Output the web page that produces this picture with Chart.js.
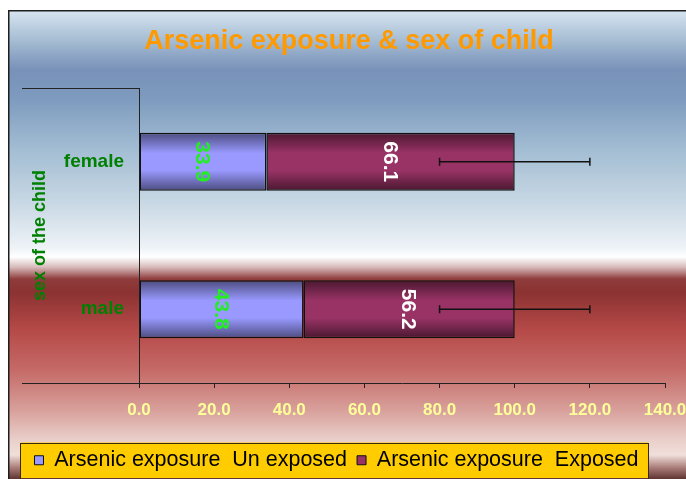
<!DOCTYPE html>
<html>
<head>
<meta charset="utf-8">
<script src="https://cdn.jsdelivr.net/npm/chart.js@4/dist/chart.umd.min.js"></script>
<style>
  html, body { margin: 0; padding: 0; background: #ffffff; }
  #wrap { width: 686px; height: 479px; }
</style>
</head>
<body>
<div id="wrap"><canvas id="chart" width="686" height="479"></canvas></div>
<script>
// Share of children by arsenic exposure, per sex (percent)
const categories = ['female', 'male'];
const unexposedShare = [33.9, 43.8];
const exposedShare = [66.1, 56.2];
// Error bar half-width on the stacked total
const totalError = [20, 20];
// Value axis ticks
const xTickValues = [0, 20, 40, 60, 80, 100, 120, 140];

const FONT = '"Liberation Sans", Arial, Helvetica, sans-serif';
const CAT_PCT = 0.8;
const BAR_PCT = 0.49;
const SERIES_COLORS = ['#9999ff', '#993366'];

// Bars are shaded across their thickness: dark rims, light middle
function barShade(light, dark) {
  return (ctx) => {
    if (ctx.type !== 'data') return light;
    const chart = ctx.chart;
    const ys = chart.scales.y;
    if (!ys || !ys.height) return light;
    const center = ys.getPixelForValue(ctx.dataIndex);
    const half = (ys.height / categories.length) * CAT_PCT * BAR_PCT / 2;
    const g = chart.ctx.createLinearGradient(0, center - half, 0, center + half);
    g.addColorStop(0, dark);
    g.addColorStop(0.35, light);
    g.addColorStop(0.65, light);
    g.addColorStop(1, dark);
    return g;
  };
}

// Frame background with vertical colour bands and the legend panel
const framePlugin = {
  id: 'frame',
  afterLayout(chart, args, opts) {
    // the heading sits a little right of the frame centre
    const tb = chart.titleBlock;
    if (tb) { tb.left += opts.titleShift; tb.right += opts.titleShift; }
  },
  beforeDraw(chart) {
    const { ctx, width, height } = chart;
    ctx.save();
    ctx.fillStyle = '#ffffff';
    ctx.fillRect(0, 0, width, height);
    const top = 10, left = 8;
    const g = ctx.createLinearGradient(0, top, 0, height);
    const stops = [
      [11, '#d6e4f0'], [40, '#a6bdd3'], [70, '#7891b8'], [100, '#7e9cbf'],
      [150, '#a3bdd3'], [200, '#c6d6e3'], [248, '#eef3f7'], [257, '#ffffff'],
      [267, '#d8bcbc'], [279, '#8f3c3c'], [292, '#8b3232'], [330, '#b54a48'],
      [370, '#c56a67'], [410, '#d8a09b'], [440, '#eacfca'], [455, '#f0dfdb'],
      [468, '#a87a76'], [479, '#5e3432']
    ];
    stops.forEach(([y, c]) => g.addColorStop((y - top) / (height - top), c));
    ctx.fillStyle = g;
    ctx.fillRect(left, top, width - left, height - top);
    ctx.strokeStyle = '#1e1e1e';
    ctx.lineWidth = 1.5;
    ctx.beginPath();
    ctx.moveTo(left + 0.75, height);
    ctx.lineTo(left + 0.75, top + 0.75);
    ctx.lineTo(width, top + 0.75);
    ctx.stroke();

    // legend panel
    const boxes = chart.legend && chart.legend.legendHitBoxes;
    if (boxes && boxes.length) {
      let l = Infinity, r = -Infinity, t = Infinity, b = -Infinity;
      boxes.forEach(h => {
        l = Math.min(l, h.left); r = Math.max(r, h.left + h.width);
        t = Math.min(t, h.top); b = Math.max(b, h.top + h.height);
      });
      const pl = 14, pr = 10, py = 7;
      ctx.fillStyle = '#ffcc00';
      ctx.fillRect(l - pl, t - py, r - l + pl + pr, b - t + 2 * py);
      ctx.strokeStyle = '#3a2a10';
      ctx.lineWidth = 1;
      ctx.strokeRect(Math.round(l - pl) + 0.5, Math.round(t - py) + 0.5,
                     Math.round(r - l + pl + pr), Math.round(b - t + 2 * py));
    }
    ctx.restore();
  }
};

// Axis lines reaching out over the category label column
const axisFramePlugin = {
  id: 'axisFrame',
  afterDatasetsDraw(chart, args, opts) {
    const { ctx, chartArea } = chart;
    ctx.save();
    ctx.strokeStyle = '#222222';
    ctx.lineWidth = 1;
    const x0 = chartArea.left - opts.reach;
    [chartArea.top, chartArea.bottom].forEach(y => {
      ctx.beginPath();
      ctx.moveTo(x0, Math.round(y) + 0.5);
      ctx.lineTo(chartArea.left, Math.round(y) + 0.5);
      ctx.stroke();
    });
    ctx.restore();
  }
};

// Error bars centred on the end of each stacked bar
const errorBarPlugin = {
  id: 'errorBars',
  afterDatasetsDraw(chart) {
    const { ctx } = chart;
    const xs = chart.scales.x;
    const meta = chart.getDatasetMeta(1);
    ctx.save();
    ctx.strokeStyle = '#111111';
    ctx.lineWidth = 1.5;
    meta.data.forEach((bar, i) => {
      const total = unexposedShare[i] + exposedShare[i];
      const lo = xs.getPixelForValue(total - totalError[i]);
      const hi = xs.getPixelForValue(total + totalError[i]);
      const y = bar.y;
      ctx.beginPath();
      ctx.moveTo(lo, y); ctx.lineTo(hi, y);
      ctx.moveTo(lo, y - 4); ctx.lineTo(lo, y + 4);
      ctx.moveTo(hi, y - 4); ctx.lineTo(hi, y + 4);
      ctx.stroke();
    });
    ctx.restore();
  }
};

// Value labels written down the middle of each segment
const valueLabelPlugin = {
  id: 'valueLabels',
  afterDatasetsDraw(chart, args, opts) {
    const { ctx } = chart;
    chart.data.datasets.forEach((ds, di) => {
      const meta = chart.getDatasetMeta(di);
      meta.data.forEach((bar, i) => {
        const cx = (bar.x + bar.base) / 2;
        ctx.save();
        ctx.translate(cx, bar.y);
        ctx.rotate(Math.PI / 2);
        ctx.font = 'bold 21px ' + FONT;
        ctx.fillStyle = opts.colors[di];
        ctx.textAlign = 'center';
        ctx.textBaseline = 'middle';
        ctx.fillText(ds.data[i].toFixed(1), 0, 1);
        ctx.restore();
      });
    });
  }
};

new Chart(document.getElementById('chart'), {
  type: 'bar',
  data: {
    labels: categories,
    datasets: [
      {
        label: 'Arsenic exposure  Un exposed',
        data: unexposedShare,
        backgroundColor: barShade(SERIES_COLORS[0], '#4c4c80'),
        borderColor: '#111111',
        borderWidth: 1.5,
        borderSkipped: false,
        categoryPercentage: CAT_PCT,
        barPercentage: BAR_PCT
      },
      {
        label: 'Arsenic exposure  Exposed',
        data: exposedShare,
        backgroundColor: barShade(SERIES_COLORS[1], '#4a1830'),
        borderColor: '#111111',
        borderWidth: 1.5,
        borderSkipped: false,
        categoryPercentage: CAT_PCT,
        barPercentage: BAR_PCT
      }
    ]
  },
  options: {
    indexAxis: 'y',
    responsive: false,
    animation: false,
    layout: { padding: { left: 8, top: 11, right: 21, bottom: -2 } },
    scales: {
      x: {
        stacked: true,
        min: 0,
        max: 140,
        afterBuildTicks: (scale) => { scale.ticks = xTickValues.map(v => ({ value: v })); },
        afterFit: (scale) => { scale.height = 56.5; scale.paddingLeft = 0; scale.paddingRight = 0; },
        ticks: {
          color: '#ffff99',
          font: { family: FONT, size: 17, weight: 'bold' },
          padding: 12,
          maxRotation: 0,
          autoSkip: false,
          callback: (v) => Number(v).toFixed(1)
        },
        grid: { drawOnChartArea: false, drawTicks: true, tickLength: 5, color: '#222222', lineWidth: 1 },
        border: { display: true, color: '#222222', width: 1 }
      },
      y: {
        stacked: true,
        afterFit: (scale) => { scale.width = 131; },
        ticks: {
          color: '#008000',
          font: { family: FONT, size: 19, weight: 'bold' },
          padding: 15
        },
        grid: { display: false, drawTicks: false },
        border: { display: true, color: '#222222', width: 1 },
        title: {
          display: true,
          text: 'sex of the child',
          color: '#008000',
          font: { family: FONT, size: 18, weight: 'bold' },
          padding: { top: 21, bottom: 0 }
        }
      }
    },
    plugins: {
      title: {
        display: true,
        text: 'Arsenic exposure & sex of child',
        color: '#ff9900',
        font: { family: FONT, size: 27, weight: 'bold' },
        padding: { top: 14.4, bottom: 30.2 }
      },
      legend: {
        position: 'bottom',
        labels: {
          color: '#000000',
          font: { family: FONT, size: 21.5 },
          boxWidth: 9,
          boxHeight: 9,
          padding: 10,
          generateLabels: (chart) => {
            const items = Chart.defaults.plugins.legend.labels.generateLabels(chart);
            items.forEach((it, i) => {
              it.fillStyle = SERIES_COLORS[i];
              it.strokeStyle = '#111111';
              it.lineWidth = 1;
            });
            return items;
          }
        }
      },
      tooltip: { enabled: false },
      frame: { titleShift: 12.5 },
      axisFrame: { reach: 117 },
      valueLabels: { colors: ['#22ee22', '#ffffff'] }
    }
  },
  plugins: [framePlugin, axisFramePlugin, errorBarPlugin, valueLabelPlugin]
});
</script>
</body>
</html>
